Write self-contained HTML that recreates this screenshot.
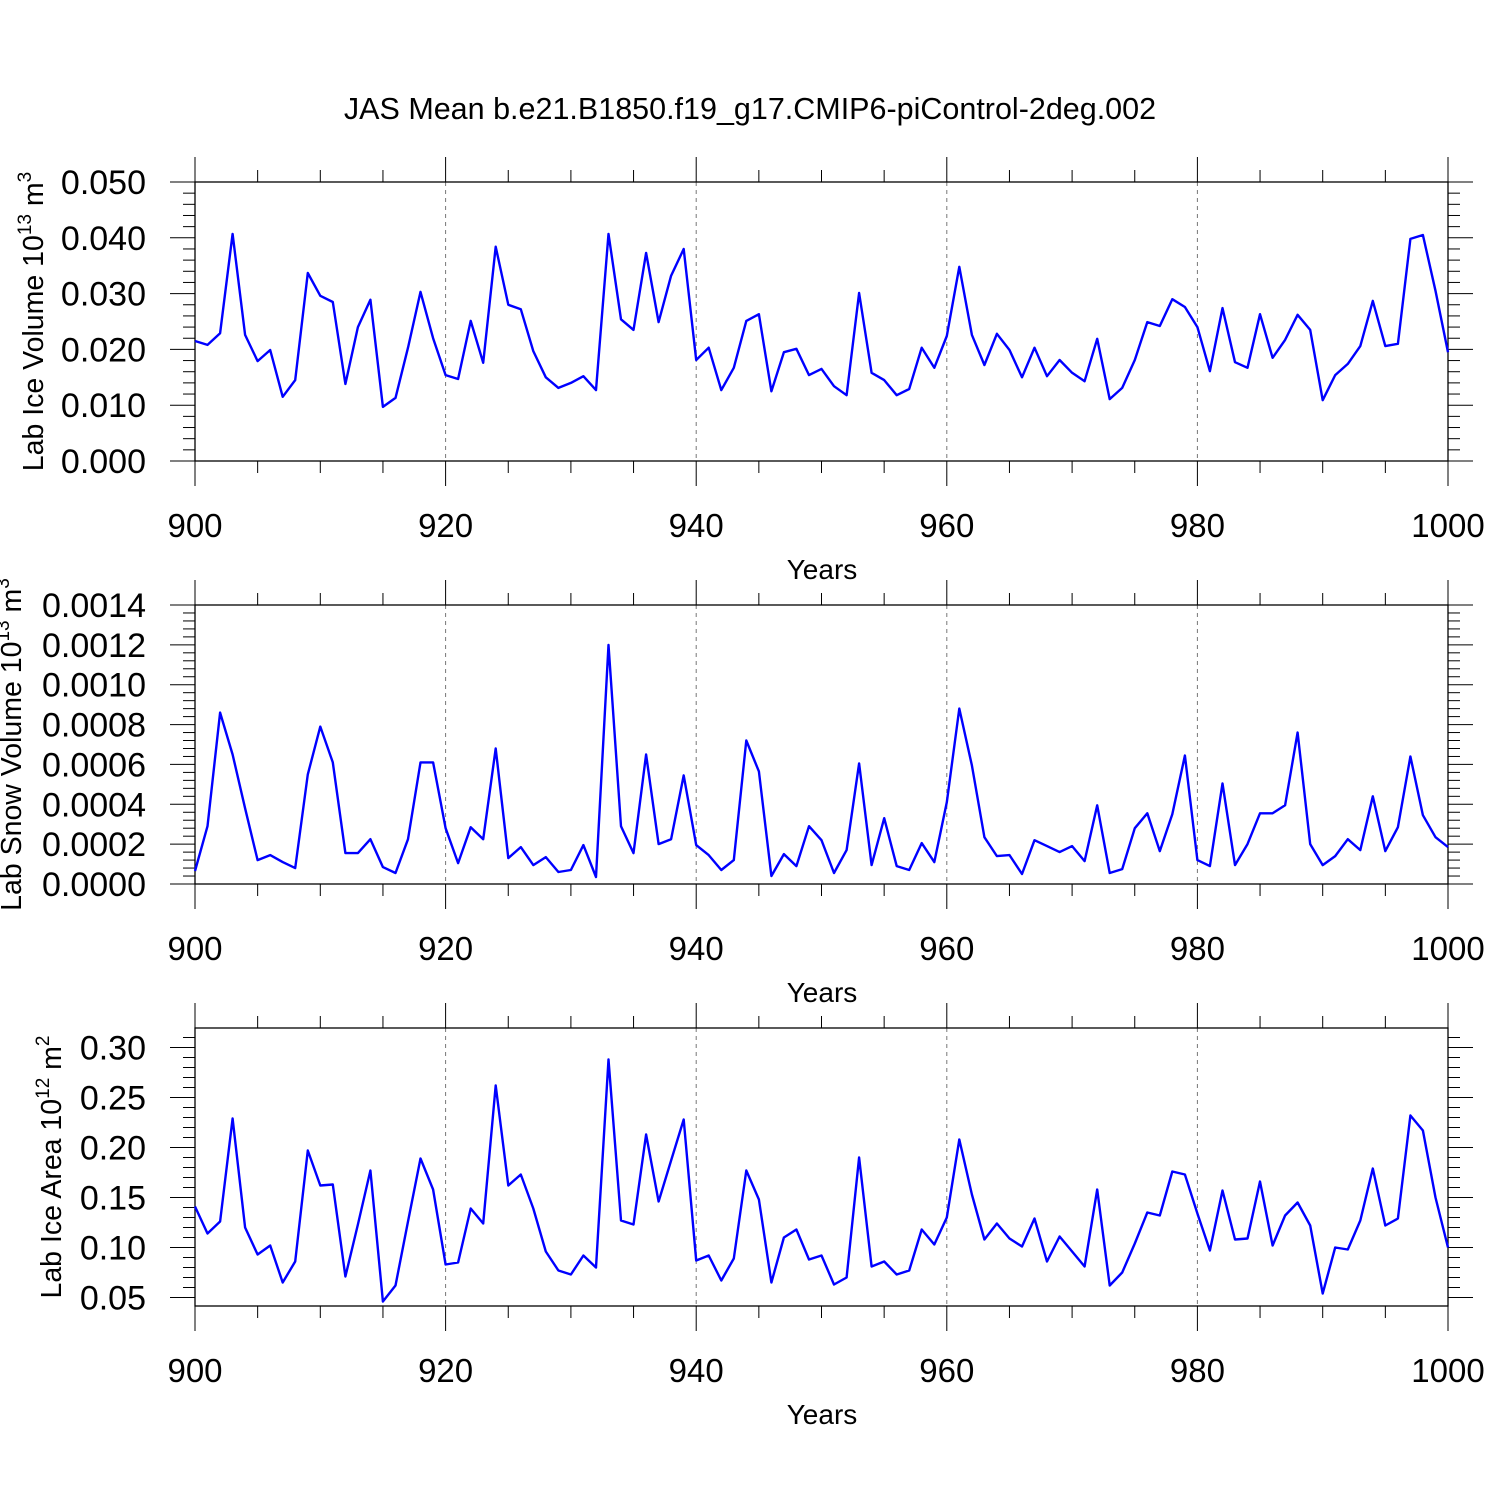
<!DOCTYPE html>
<html><head><meta charset="utf-8"><style>
html,body{margin:0;padding:0;background:#fff}
svg{display:block}
text{font-family:"Liberation Sans",sans-serif;fill:#000}
</style></head><body>
<svg id="chart" width="1500" height="1500" viewBox="0 0 1500 1500" xmlns="http://www.w3.org/2000/svg">
<rect width="1500" height="1500" fill="#fff"/>
<text x="750" y="119" font-size="30.5" text-anchor="middle">JAS Mean b.e21.B1850.f19_g17.CMIP6-piControl-2deg.002</text>
</svg>
<script>
const years = Array.from({length:101},(_, i)=>900+i);
const iceVolume = [0.0215,0.0208,0.0229,0.0407,0.0226,0.0179,0.0199,0.0115,0.0145,0.0337,0.0296,0.0285,0.0138,0.024,0.0289,0.0097,0.0113,0.0203,0.0303,0.022,0.0154,0.0147,0.0251,0.0176,0.0384,0.028,0.0272,0.0197,0.015,0.0131,0.014,0.0152,0.0127,0.0407,0.0254,0.0235,0.0373,0.0249,0.0332,0.038,0.0181,0.0203,0.0127,0.0167,0.0251,0.0263,0.0125,0.0195,0.0201,0.0154,0.0165,0.0134,0.0118,0.0301,0.0158,0.0145,0.0118,0.0129,0.0203,0.0167,0.0224,0.0348,0.0226,0.0172,0.0228,0.0199,0.015,0.0203,0.0152,0.0181,0.0158,0.0143,0.0219,0.0111,0.0131,0.0181,0.0249,0.0242,0.029,0.0276,0.024,0.0161,0.0274,0.0177,0.0167,0.0263,0.0185,0.0217,0.0262,0.0235,0.0109,0.0154,0.0174,0.0206,0.0287,0.0206,0.021,0.0398,0.0405,0.0305,0.0195];
const snowVolumeE4 = [0.65,2.9,8.6,6.5,3.8,1.2,1.45,1.1,0.8,5.5,7.9,6.1,1.55,1.55,2.25,0.85,0.55,2.25,6.1,6.1,2.8,1.05,2.85,2.25,6.8,1.3,1.85,0.95,1.35,0.6,0.7,1.95,0.35,12.0,2.9,1.55,6.5,2.0,2.25,5.45,1.95,1.45,0.7,1.2,7.2,5.65,0.4,1.5,0.9,2.9,2.2,0.55,1.7,6.05,0.95,3.3,0.9,0.7,2.05,1.1,4.1,8.8,5.95,2.35,1.4,1.45,0.5,2.2,1.9,1.6,1.9,1.15,3.95,0.55,0.75,2.8,3.55,1.65,3.5,6.45,1.2,0.9,5.05,0.95,2.0,3.55,3.55,3.95,7.6,2.0,0.95,1.4,2.25,1.7,4.4,1.65,2.85,6.4,3.45,2.35,1.85];
const iceArea = [0.141,0.114,0.126,0.229,0.12,0.093,0.102,0.065,0.086,0.197,0.162,0.163,0.071,0.123,0.177,0.046,0.062,0.126,0.189,0.158,0.083,0.085,0.139,0.124,0.262,0.162,0.173,0.139,0.096,0.077,0.073,0.092,0.08,0.288,0.127,0.123,0.213,0.146,0.187,0.228,0.087,0.092,0.067,0.089,0.177,0.148,0.065,0.11,0.118,0.088,0.092,0.063,0.07,0.19,0.081,0.086,0.073,0.077,0.118,0.103,0.13,0.208,0.153,0.108,0.124,0.109,0.101,0.129,0.086,0.111,0.096,0.081,0.158,0.062,0.075,0.104,0.135,0.132,0.176,0.173,0.134,0.097,0.157,0.108,0.109,0.166,0.102,0.132,0.145,0.122,0.054,0.1,0.098,0.127,0.179,0.122,0.129,0.232,0.217,0.15,0.1];
const xTickLabels = ["900","920","940","960","980","1000"];
const yTicks1 = ["0.000","0.010","0.020","0.030","0.040","0.050"];
const yTicks2 = ["0.0000","0.0002","0.0004","0.0006","0.0008","0.0010","0.0012","0.0014"];
const yTicks3 = ["0.05","0.10","0.15","0.20","0.25","0.30"];

const svg = document.getElementById('chart');
const NS = 'http://www.w3.org/2000/svg';
function mk(tag, attrs, parent){const e=document.createElementNS(NS,tag);for(const k in attrs)e.setAttribute(k,attrs[k]);(parent||svg).appendChild(e);return e;}
const X0=195, X1=1448;
const xs = v => X0 + (v-900)/100*(X1-X0);

function panel(name, top, bot, ymin, ymax, values, scale, ticks, minorStep, titleParts, titleX){
  const g = mk('g',{});
  
  
  const ys = v => bot - (v-ymin)/(ymax-ymin)*(bot-top);
  for(let yr=920; yr<=980; yr+=20){
    const l=mk('line',{x1:xs(yr),x2:xs(yr),y1:top,y2:bot,stroke:'#777','stroke-width':1,'stroke-dasharray':'4,4'},g);
    
    
  }
  const fr=mk('rect',{x:X0,y:top,width:X1-X0,height:bot-top,fill:'none',stroke:'#000','stroke-width':1.3},g);
  
  
  for(let yr=900; yr<=1000; yr+=5){
    const x=xs(yr), major = yr%20===0, len = major?25:12;
    mk('line',{x1:x,x2:x,y1:top,y2:top-len,stroke:'#000','stroke-width':1},g);
    mk('line',{x1:x,x2:x,y1:bot,y2:bot+len,stroke:'#000','stroke-width':1},g);
  }
  xTickLabels.forEach(s=>{
    const t=mk('text',{x:xs(+s),y:bot+76,'font-size':33,'text-anchor':'middle'},g);
    t.textContent=s;
    
    
  });
  const xt=mk('text',{x:822,y:bot+118,'font-size':28,'text-anchor':'middle'},g);
  xt.textContent='Years';
  
  
  const nMinor = Math.round((ymax-ymin)/minorStep);
  const firstMajor = parseFloat(ticks[0]);
  for(let m=-10; m<=nMinor+10; m++){
    const v = firstMajor + m*minorStep;
    if(v<ymin-1e-9||v>ymax+1e-9) continue;
    const y=ys(v);
    const isMaj = ticks.some(s=>Math.abs(parseFloat(s)-v)<minorStep/10);
    const len = isMaj?25:12;
    mk('line',{x1:X0,x2:X0-len,y1:y,y2:y,stroke:'#000','stroke-width':1},g);
    mk('line',{x1:X1,x2:X1+len,y1:y,y2:y,stroke:'#000','stroke-width':1},g);
  }
  ticks.forEach(s=>{
    const t=mk('text',{x:146,y:ys(parseFloat(s))+12,'font-size':34,'text-anchor':'end'},g);
    t.textContent=s;
    
    
  });
  const cy=(top+bot)/2;
  const yt=mk('text',{x:0,y:0,'font-size':28.5,'text-anchor':'middle',transform:`translate(${titleX} ${cy}) rotate(-90)`},g);
  
  
  const a=mk('tspan',{},yt); a.textContent=titleParts[0];
  const b=mk('tspan',{'font-size':19,dy:-12},yt); b.textContent=titleParts[1];
  const c=mk('tspan',{dy:12},yt); c.textContent=' m';
  const d=mk('tspan',{'font-size':19,dy:-12},yt); d.textContent=titleParts[2];
  const pts = values.map((v,i)=>xs(years[i]).toFixed(1)+','+ys(v*scale).toFixed(1)).join(' ');
  const pl=mk('polyline',{points:pts,fill:'none',stroke:'#0000ff','stroke-width':2.4,'stroke-linejoin':'round'},g);
  
  
}
panel('ice-volume',182,461,0,0.05,iceVolume,1,yTicks1,0.002,['Lab Ice Volume 10','13','3'],43);
panel('snow-volume',605,884,0,0.0014,snowVolumeE4,1e-4,yTicks2,0.00004,['Lab Snow Volume 10','13','3'],21);
panel('ice-area',1028,1306,0.0415,0.3195,iceArea,1,yTicks3,0.01,['Lab Ice Area 10','12','2'],61);
</script>
</body></html>
